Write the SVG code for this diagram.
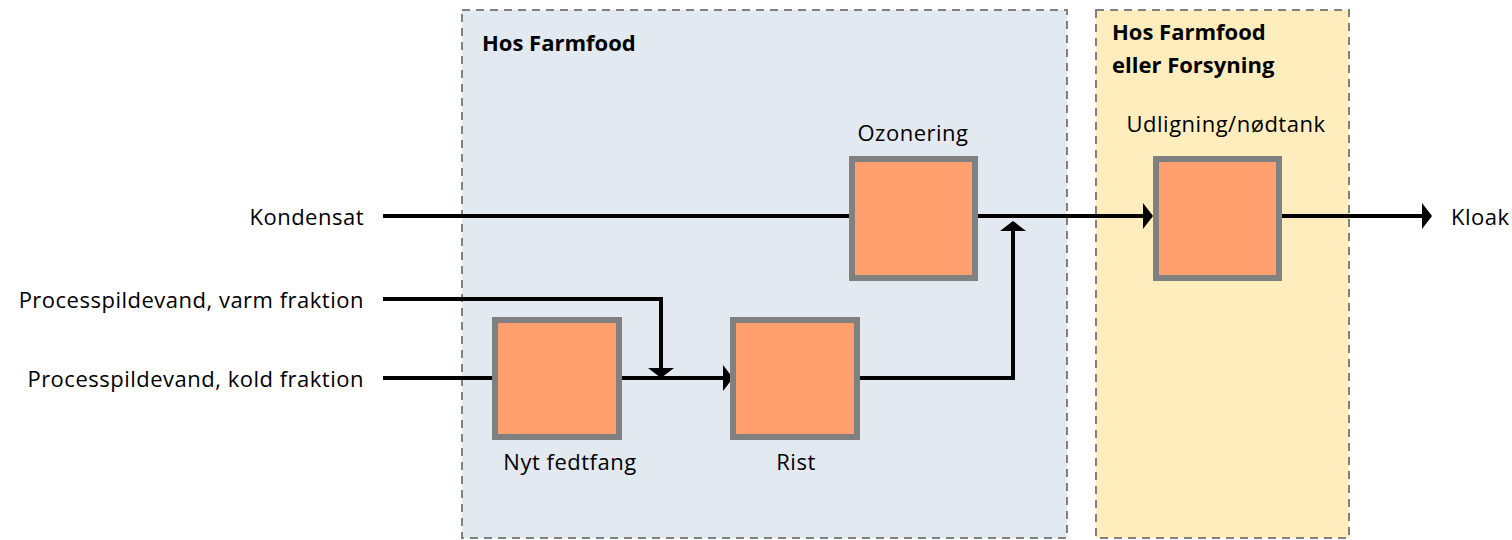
<svg xmlns="http://www.w3.org/2000/svg" width="1512" height="540" viewBox="0 0 1512 540">
<style>
.region{stroke:#808080;stroke-width:2;stroke-dasharray:8,6}
.box{fill:#FFA06E;stroke:#808080;stroke-width:6}
.lbl{font-family:"Open Sans","Liberation Sans",sans-serif;font-size:22px;letter-spacing:0.5px;fill:#000}
.ttl{font-family:"Open Sans","Liberation Sans",sans-serif;font-size:22px;font-weight:bold;fill:#000}
.c{fill:none;stroke:#000;stroke-width:4}
</style>
<defs>
<marker id="ah" viewBox="0 0 10 26" refX="9" refY="13" markerWidth="10" markerHeight="26" markerUnits="userSpaceOnUse" orient="auto">
<path d="M0,0 L10,13 L0,26 Z" fill="#000"/>
</marker>
</defs>
<g id="region-farmfood">
<rect class="region" x="462" y="10" width="605" height="528" fill="#E2E9F0"/>
<text class="ttl" x="482" y="51">Hos Farmfood</text>
</g>
<g id="region-forsyning">
<rect class="region" x="1096" y="10" width="253" height="528" fill="#FFEDBE"/>
<text class="ttl" x="1112" y="40">Hos Farmfood</text>
<text class="ttl" x="1112" y="73">eller Forsyning</text>
</g>
<g id="connectors">
<path class="c" d="M383,216 H852"/>
<path class="c" d="M975,216 H1152" marker-end="url(#ah)"/>
<path class="c" d="M1279,216 H1431" marker-end="url(#ah)"/>
<path class="c" d="M383,299 H661 V377" marker-end="url(#ah)"/>
<path class="c" d="M383,378 H495"/>
<path class="c" d="M619,378 H732" marker-end="url(#ah)"/>
<path class="c" d="M857,378 H1013 V222" marker-end="url(#ah)"/>
</g>
<g id="node-ozonering">
<rect class="box" x="852" y="159" width="123" height="119"/>
<text class="lbl" x="913" y="141" text-anchor="middle">Ozonering</text>
</g>
<g id="node-udligning">
<rect class="box" x="1156" y="159" width="123" height="119"/>
<text class="lbl" x="1226" y="132" text-anchor="middle">Udligning/nødtank</text>
</g>
<g id="node-fedtfang">
<rect class="box" x="495" y="320" width="124" height="117"/>
<text class="lbl" x="570" y="470" text-anchor="middle">Nyt fedtfang</text>
</g>
<g id="node-rist">
<rect class="box" x="733" y="320" width="124" height="117"/>
<text class="lbl" x="796" y="470" text-anchor="middle">Rist</text>
</g>
<g id="labels">
<text class="lbl" x="364" y="225" text-anchor="end">Kondensat</text>
<text class="lbl" x="364" y="308" text-anchor="end">Processpildevand, varm fraktion</text>
<text class="lbl" x="364" y="387" text-anchor="end">Processpildevand, kold fraktion</text>
<text class="lbl" x="1451" y="225">Kloak</text>
</g>
</svg>
